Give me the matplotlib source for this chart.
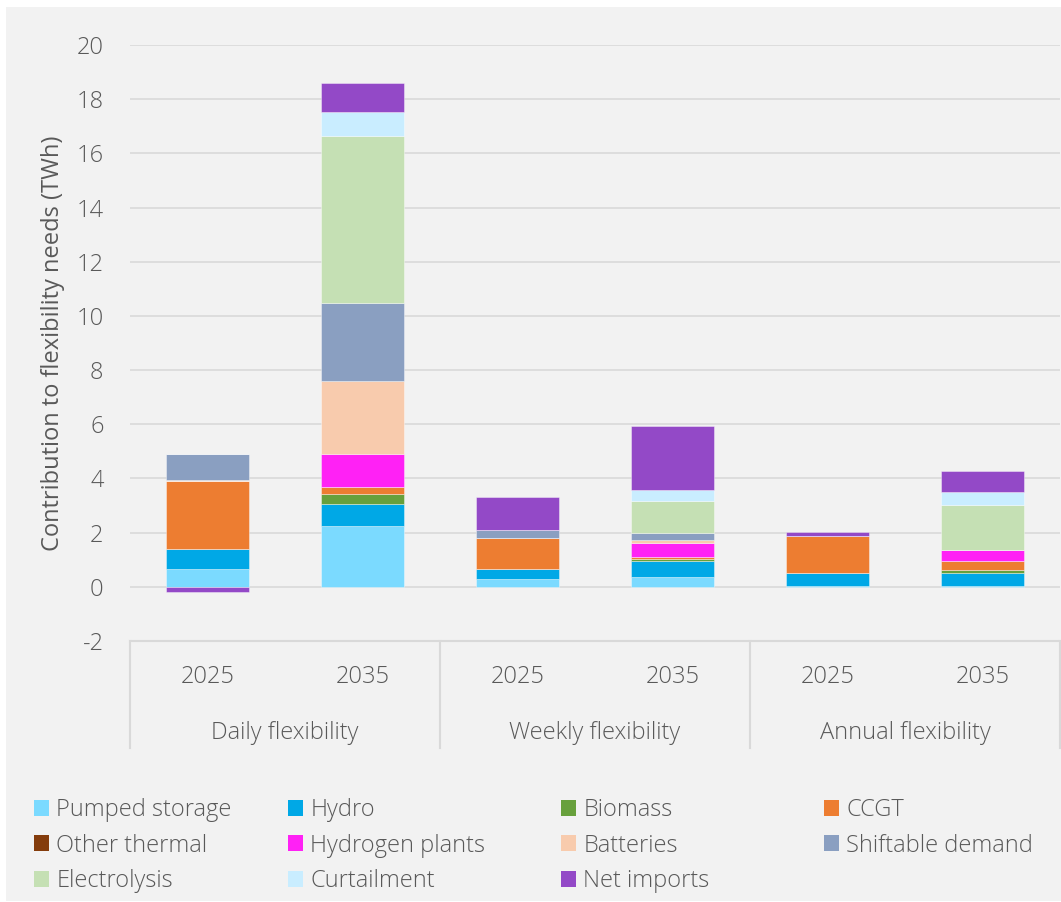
import numpy as np
import matplotlib.pyplot as plt
import matplotlib.transforms as mtransforms
from matplotlib.patches import Rectangle, Patch

plt.rcParams['font.family'] = ['Open Sans', 'DejaVu Sans']
plt.rcParams['font.weight'] = 'light'
plt.rcParams['axes.unicode_minus'] = False

# data (TWh), one value per bar: Daily 2025/2035, Weekly 2025/2035, Annual 2025/2035
years = ['2025', '2035', '2025', '2035', '2025', '2035']
groups = ['Daily flexibility', 'Weekly flexibility', 'Annual flexibility']

series = ['Pumped storage', 'Hydro', 'Biomass', 'CCGT', 'Other thermal',
          'Hydrogen plants', 'Batteries', 'Shiftable demand', 'Electrolysis',
          'Curtailment', 'Net imports']
pumped_storage = [0.67, 2.26, 0.28, 0.38, 0.02, 0.02]
hydro = [0.73, 0.80, 0.38, 0.57, 0.49, 0.50]
biomass = [0.0, 0.36, 0.0, 0.09, 0.0, 0.09]
ccgt = [2.50, 0.25, 1.16, 0.06, 1.35, 0.35]
other_thermal = [0.0, 0.0, 0.0, 0.0, 0.0, 0.0]
hydrogen = [0.0, 1.23, 0.0, 0.50, 0.0, 0.40]
batteries = [0.06, 2.70, 0.0, 0.13, 0.0, 0.0]
shiftable = [0.95, 2.89, 0.27, 0.26, 0.0, 0.0]
electrolysis = [0.0, 6.16, 0.0, 1.17, 0.0, 1.66]
curtailment = [0.0, 0.86, 0.0, 0.42, 0.0, 0.49]
net_imports = [-0.20, 1.10, 1.22, 2.35, 0.16, 0.78]

values = [pumped_storage, hydro, biomass, ccgt, other_thermal, hydrogen,
          batteries, shiftable, electrolysis, curtailment, net_imports]
colors = ['#7bdaff', '#00a8e6', '#67a03c', '#ed7d31', '#843c0c', '#ff21f5',
          '#f8cbad', '#8a9fc1', '#c5e0b4', '#c9edff', '#9349c7']

txt = '#595959'
grid_c = '#d9d9d9'
fs = 17

fig = plt.figure(figsize=(10.61, 9.02), dpi=100, facecolor='white')
fig.patches.append(Rectangle((6 / 1061, 1 / 902), 1055 / 1061, 894 / 902,
                             transform=fig.transFigure, facecolor='#f2f2f2',
                             edgecolor='none', zorder=-10))
ax = fig.add_axes([130 / 1061, 1 - 641 / 902, 930 / 1061, 596 / 902])
ax.set_facecolor('none')

x = np.arange(len(years))
pos_base = np.zeros(len(years))
neg_base = np.zeros(len(years))
for name, vals, c in zip(series, values, colors):
    v = np.array(vals)
    bottom = np.where(v >= 0, pos_base, neg_base)
    ax.bar(x, v, width=0.54, bottom=bottom, color=c,
           edgecolor=(1, 1, 1, 0.45), linewidth=0.6, zorder=3)
    pos_base += np.where(v > 0, v, 0)
    neg_base += np.where(v < 0, v, 0)

ax.set_xlim(-0.5, 5.5)
ax.set_ylim(-2, 20)
ax.set_yticks(np.arange(-2, 21, 2))
ax.yaxis.grid(True, color=grid_c, linewidth=1.2, zorder=0)
ax.set_axisbelow(True)
ax.tick_params(axis='y', length=0, pad=19, labelsize=fs, labelcolor=txt)
ax.set_xticks(x)
ax.set_xticklabels(years)
ax.tick_params(axis='x', length=0, pad=17, labelsize=fs, labelcolor=txt)
for s in ['top', 'right', 'left']:
    ax.spines[s].set_visible(False)
ax.spines['bottom'].set_color(grid_c)
ax.spines['bottom'].set_linewidth(1.5)

ax.set_ylabel('Contribution to flexibility needs (TWh)', fontsize=fs,
              color=txt, labelpad=8)

# group labels and separators under the axis
trans = mtransforms.blended_transform_factory(ax.transData, ax.transAxes)
for i, g in enumerate(groups):
    ax.text(2 * i + 0.5, -0.155, g, transform=trans, ha='center', va='center',
            fontsize=fs, color=txt)
for sx in [-0.5, 1.5, 3.5, 5.5]:
    ax.plot([sx, sx], [0, -0.1795], transform=trans, color=grid_c,
            linewidth=1.5, clip_on=False)

# legend, one column at a time so the columns keep Excel-like spacing
handles = [Patch(facecolor=c, edgecolor='none') for c in colors]
col_x = [34, 288, 561, 824]
for ci in range(4):
    idx = list(range(ci, len(series), 4))
    fig.legend([handles[k] for k in idx], [series[k] for k in idx],
               loc='upper left', bbox_to_anchor=(col_x[ci] / 1061, 1 - 798 / 902),
               frameon=False, fontsize=fs, labelcolor=txt,
               handlelength=0.64, handleheight=0.64, handletextpad=0.3,
               labelspacing=0.49, borderaxespad=0, borderpad=0)

fig.savefig('out.png', dpi=100, facecolor='white')
